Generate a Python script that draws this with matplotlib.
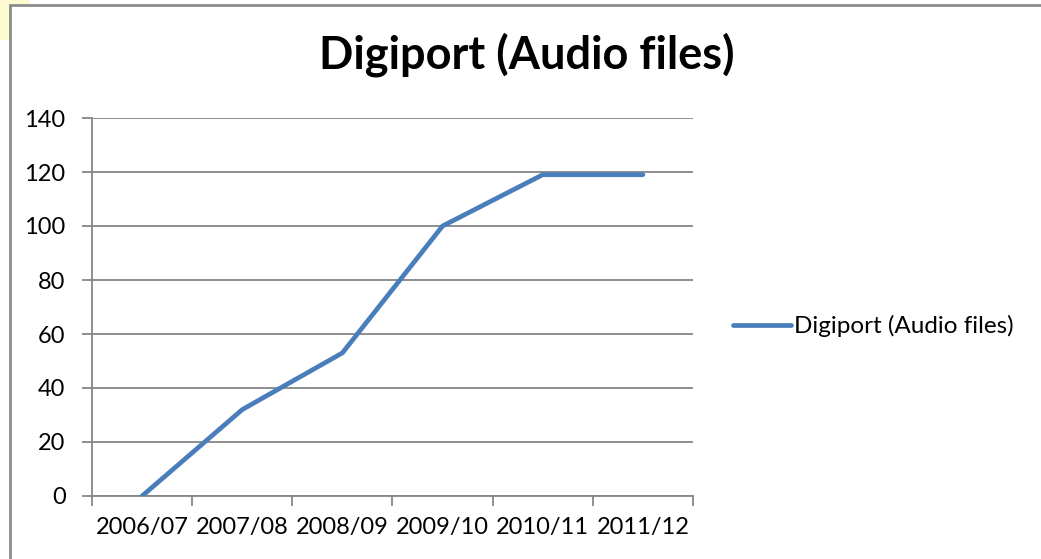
import matplotlib
matplotlib.use("Agg")
from matplotlib import pyplot as plt
from matplotlib.patches import Rectangle
import numpy as np

# data
years = ["2006/07", "2007/08", "2008/09", "2009/10", "2010/11", "2011/12"]
audio_files = [0, 32, 53, 100, 119, 119]
series_name = "Digiport (Audio files)"

plt.rcParams['font.family'] = ['Lato', 'DejaVu Sans']

fig = plt.figure(figsize=(10.41, 5.59), dpi=100)

# yellow corner mark + chart frame like the screenshot
fig.patches.append(Rectangle((0, 1 - 40/559), 30/1041, 40/559, transform=fig.transFigure,
                             facecolor='#fffbd0', edgecolor='none', zorder=-2))
fig.patches.append(Rectangle((10/1041, -0.05), 1.1, 1 - 5/559 + 0.05, transform=fig.transFigure,
                             facecolor='white', edgecolor='#8c8c8c', lw=2, zorder=-1))

ax = fig.add_axes([92/1041, 1 - 496/559, (693 - 92)/1041, (496 - 118)/559])
ax.set_facecolor('none')

x = np.arange(len(years))
ax.plot(x, audio_files, color='#4a7ebb', lw=3.4, solid_capstyle='round',
        solid_joinstyle='round', label=series_name, zorder=3)

ax.set_xlim(-0.5, len(years) - 0.5)
ax.set_ylim(0, 140)
ax.set_yticks(range(0, 141, 20))
ax.grid(axis='y', color='#868686', lw=1.3)
ax.set_axisbelow(True)

# category boundaries get the tick marks, labels sit between them
ax.set_xticks(np.arange(-0.5, len(years), 1.0))
ax.set_xticklabels([])
ax.set_xticks(x, minor=True)
ax.set_xticklabels(years, minor=True)
ax.tick_params(axis='x', which='major', length=7, width=1.3, color='#868686', direction='out')
ax.tick_params(axis='x', which='minor', length=0, pad=15, labelsize=17)
ax.tick_params(axis='y', length=7, width=1.3, color='#868686', labelsize=17, pad=12)

for s in ['top', 'right']:
    ax.spines[s].set_visible(False)
for s in ['left', 'bottom']:
    ax.spines[s].set_color('#868686')
    ax.spines[s].set_linewidth(1.3)

fig.text(527/1041, 1 - 55/559, "Digiport (Audio files)", ha='center', va='center',
         fontsize=32.5, fontweight='bold')

ax.legend(loc='center left', bbox_to_anchor=(711/1041, 1 - 326/559),
          bbox_transform=fig.transFigure, frameon=False, fontsize=17.5,
          handlelength=2.4, handletextpad=0.1)

plt.savefig('out.png', dpi=100)
